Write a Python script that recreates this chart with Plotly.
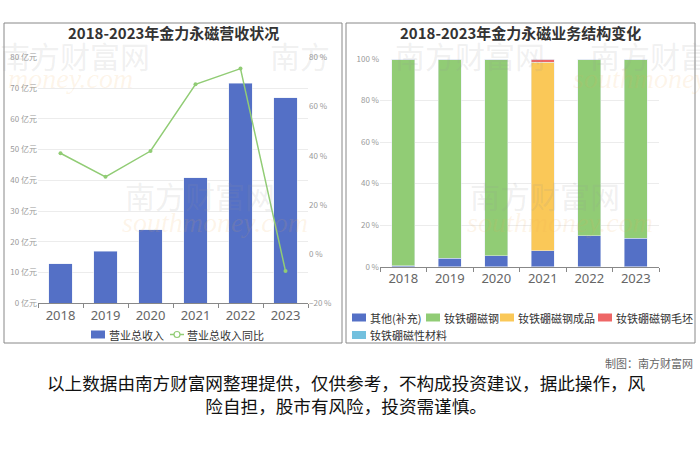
import plotly.graph_objects as go

W, H = 700, 467

years = ["2018", "2019", "2020", "2021", "2022", "2023"]
# 营收（亿元）与同比（%）
revenue = [12.9, 16.9, 23.9, 40.8, 71.5, 66.9]
revenue_yoy = [41.0, 31.4, 41.9, 69.0, 75.4, -6.9]

# 业务结构占比（%）
other = [0.5, 4.0, 5.2, 7.6, 14.9, 13.8]
magnet = [99.5, 96.0, 94.8, 0.0, 85.1, 86.2]
magnet_finished = [0.0, 0.0, 0.0, 90.8, 0.0, 0.0]
magnet_blank = [0.0, 0.0, 0.0, 1.6, 0.0, 0.0]
magnetic_material = [0.0, 0.0, 0.0, 0.0, 0.0, 0.0]

segment_names = ["其他(补充)", "钕铁硼磁钢", "钕铁硼磁钢成品", "钕铁硼磁钢毛坯", "钕铁硼磁性材料"]

BLUE, GREEN, YELLOW, RED, CYAN = "#5470c6", "#91cc75", "#fac858", "#ee6666", "#73c0de"
FONT = "Noto Sans CJK SC"


def px(x):
    return x / W


def py(y):
    return 1 - y / H


fig = go.Figure()

# 左图：营收柱 + 同比折线
fig.add_trace(go.Bar(x=years, y=revenue, name="营业总收入", marker_color=BLUE,
                     width=0.52, xaxis="x", yaxis="y", showlegend=False))
fig.add_trace(go.Scatter(x=years, y=revenue_yoy, name="营业总收入同比", mode="lines+markers",
                         line=dict(color=GREEN, width=1.5),
                         marker=dict(symbol="circle", size=4, color=GREEN),
                         xaxis="x", yaxis="y2", showlegend=False))

# 右图：业务结构堆叠柱
seg_colors = [BLUE, GREEN, YELLOW, RED, CYAN]
for vals, name, col in zip([other, magnet, magnet_finished, magnet_blank, magnetic_material],
                           segment_names, seg_colors):
    fig.add_trace(go.Bar(x=years, y=vals, name=name, marker_color=col, width=0.5,
                         xaxis="x3", yaxis="y3", showlegend=False))

tickfont = dict(family=FONT, size=8, color="#999")
xfont = dict(family="Noto Sans", size=13, color="#666")
grid = "#ececec"

fig.update_layout(
    width=W, height=H, margin=dict(l=0, r=0, t=0, b=0, autoexpand=False),
    paper_bgcolor="white", plot_bgcolor="white", barmode="stack",
    font=dict(family=FONT, color="#333"),
    xaxis=dict(domain=[px(38), px(308)], type="category", showline=True, linecolor="#888",
               ticks="outside", tickson="boundaries", ticklen=4, tickcolor="#888",
               tickfont=xfont, anchor="y"),
    yaxis=dict(domain=[py(303.3), py(57.3)], range=[0, 80], dtick=10, ticksuffix=" 亿元",
               showgrid=True, gridcolor=grid, zeroline=False, tickfont=tickfont, anchor="x"),
    yaxis2=dict(overlaying="y", side="right", range=[-20, 80], dtick=20, ticksuffix=" %",
                showgrid=False, zeroline=False, tickfont=tickfont, anchor="x"),
    xaxis3=dict(domain=[px(380), px(659)], type="category", showline=True, linecolor="#888",
                ticks="outside", tickson="boundaries", ticklen=4, tickcolor="#888",
                tickfont=xfont, anchor="y3"),
    yaxis3=dict(domain=[py(266.7), py(59)], range=[0, 100], dtick=20, ticksuffix=" %",
                showgrid=True, gridcolor=grid, zeroline=False, tickfont=tickfont, anchor="x3"),
)

# 外框
for x0, x1 in [(4, 342), (346, 695)]:
    fig.add_shape(type="rect", xref="paper", yref="paper", x0=px(x0), x1=px(x1),
                  y0=py(343), y1=py(23), line=dict(color="#888", width=1))


def note(x, y, text, font, xanchor="center"):
    fig.add_annotation(x=px(x), y=py(y), xref="paper", yref="paper", text=text,
                       showarrow=False, xanchor=xanchor, yanchor="middle", font=font)


def swatch(x, y, color):
    fig.add_shape(type="rect", xref="paper", yref="paper", x0=px(x), x1=px(x + 14),
                  y0=py(y + 4), y1=py(y - 4), fillcolor=color, line=dict(width=0))


# 图例（手绘，贴近原图紧凑样式）
legfont = dict(family=FONT, size=11, color="#333")
swatch(91, 334.5, BLUE)
note(107, 334.5, "营业总收入", legfont, xanchor="left")
fig.add_shape(type="line", xref="paper", yref="paper", x0=px(170), x1=px(184),
              y0=py(334.5), y1=py(334.5), line=dict(color=GREEN, width=1.5))
fig.add_shape(type="circle", xref="paper", yref="paper", x0=px(174), x1=px(180),
              y0=py(337.5), y1=py(331.5), fillcolor="white", line=dict(color=GREEN, width=1.2))
note(185, 334.5, "营业总收入同比", legfont, xanchor="left")

leg_pos = [(352, 317.5), (426, 317.5), (500, 317.5), (598, 317.5), (352, 335)]
for (x, y), name, col in zip(leg_pos, segment_names, seg_colors):
    swatch(x, y, col)
    note(x + 16, y, name, legfont, xanchor="left")

# 水印
for x, y, t in [(75, 55, "南方财富网"), (300, 55, "南方"), (470, 55, "南方财富网"),
                (650, 55, "南方财富"), (200, 195, "南方财富网"), (545, 195, "南方财富网")]:
    note(x, y, t, dict(family=FONT, size=30, color="rgba(150,150,150,0.15)"))
for x, y, t in [(70, 78, "money.com"), (215, 222, "southmoney.com"),
                (560, 222, "southmoney.com"), (640, 78, "southmoney")]:
    note(x, y, f"<i>{t}</i>",
         dict(family="Liberation Serif", size=28, color="rgba(240,170,80,0.13)"))

# 标题
note(173, 33, "<b>2018-2023年金力永磁营收状况</b>", dict(family=FONT, size=15, color="#333"))
note(520, 33, "<b>2018-2023年金力永磁业务结构变化</b>", dict(family=FONT, size=15, color="#333"))

# 底部文字
note(695, 363, "制图：南方财富网", dict(family=FONT, size=11, color="#666"), xanchor="right")
note(346, 394,
     "以上数据由南方财富网整理提供，仅供参考，不构成投资建议，据此操作，风<br>险自担，股市有风险，投资需谨慎。",
     dict(family=FONT, size=17.6, color="#111"))

fig.write_html("out.html", config={"displayModeBar": False},
               post_script="document.body.style.margin='0px';")
